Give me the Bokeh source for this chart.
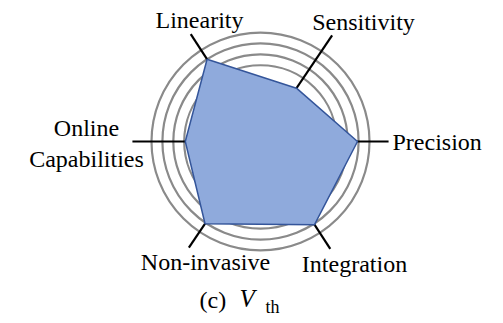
import numpy as np
from bokeh.plotting import figure
from bokeh.models import Range1d
from bokeh.embed import file_html
from bokeh.resources import INLINE
from bokeh.core.properties import value

# ---- data ----
categories = ["Linearity", "Sensitivity", "Precision", "Integration", "Non-invasive", "Online\nCapabilities"]
scores = [9.0, 5.9, 8.9, 9.1, 9.1, 6.9]
rings = [7, 8, 9, 10]
axis_length = 11.75
caption_prefix = "(c) "
caption_var = "V"
caption_sub = "th"

# ---- layout ----
angles_deg = [123, 56, 0, -57, -124, 180]
W, H = 503, 323
U = 10.9            # pixels per unit
CX, CY = 260, 141   # centre in page pixels
DY = -9             # baseline correction for svg text

def px(X, Y):
    """page pixel -> data coords"""
    return (X - CX) / U, (CY - Y) / U

p = figure(width=W, height=H, output_backend="svg", toolbar_location=None,
           x_range=Range1d(-CX / U, (W - CX) / U),
           y_range=Range1d(-(H - CY) / U, CY / U),
           x_axis_location=None, y_axis_location=None, min_border=0)
p.grid.visible = False
p.outline_line_color = None
p.background_fill_color = "white"

ang = np.radians(angles_deg)

# rings
p.circle(x=[0] * len(rings), y=[0] * len(rings), radius=rings,
         fill_color=None, line_color="#8a8a8a", line_width=2.2)

# axis spokes
p.segment(x0=[0] * 6, y0=[0] * 6,
          x1=list(axis_length * np.cos(ang)), y1=list(axis_length * np.sin(ang)),
          line_color="black", line_width=2.2)

# polygon
sx = list(np.array(scores) * np.cos(ang))
sy = list(np.array(scores) * np.sin(ang))
p.patch(sx, sy, fill_color="#8FAADC", fill_alpha=1.0,
        line_color="#34559A", line_width=1.5)

# labels
font = value("Liberation Serif")
FS = "24px"
label_pos = [(199, 28, "center"), (363, 30, "center"), (392, 150, "left"),
             (354, 272, "center"), (205, 270, "center")]
for name, (X, Y, al) in zip(categories[:5], label_pos):
    x, y = px(X, Y + DY)
    p.text(x=[x], y=[y], text=[name], text_font=font, text_font_size=FS,
           text_align=al, text_baseline="alphabetic", text_color="black")

ox, oy = px(86, 143)
p.text(x=[ox], y=[oy], text=[categories[5]], text_font=font, text_font_size=FS,
       text_align="center", text_baseline="middle", text_line_height=1.2,
       text_color="black")

# caption
cx1, cy1 = px(199, 308 + DY)
p.text(x=[cx1], y=[cy1], text=[caption_prefix], text_font=font, text_font_size=FS,
       text_align="left", text_baseline="alphabetic", text_color="black")
cx2, cy2 = px(239, 307 + DY)
p.text(x=[cx2], y=[cy2], text=[caption_var], text_font=font, text_font_size="25px",
       text_font_style="italic", text_align="left", text_baseline="alphabetic",
       text_color="black")
cx3, cy3 = px(265, 315 + DY)
p.text(x=[cx3], y=[cy3], text=[caption_sub], text_font=font, text_font_size="18px",
       text_align="left", text_baseline="alphabetic", text_color="black")

open("out.html", "w").write(file_html(p, INLINE))
